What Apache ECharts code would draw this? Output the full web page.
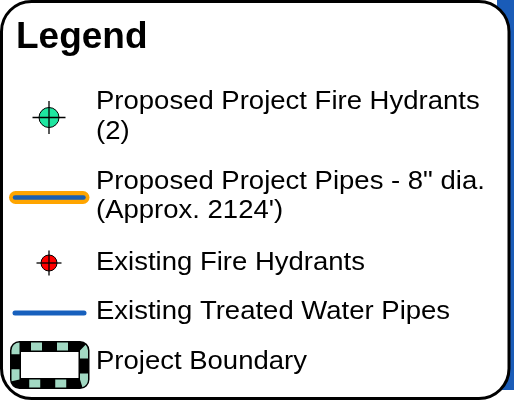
<!DOCTYPE html>
<html>
<head>
<meta charset="utf-8">
<script src="https://cdn.jsdelivr.net/npm/echarts@6/dist/echarts.min.js"></script>
<style>
html,body{margin:0;padding:0;background:#fff;}
#c{width:514px;height:402px;}
</style>
</head>
<body>
<div id="c"></div>
<script>
// Legend content
var title = 'Legend';
var itemLabels = [
  ['Proposed Project Fire Hydrants', '(2)'],
  ['Proposed Project Pipes - 8" dia.', "(Approx. 2124')"],
  ['Existing Fire Hydrants'],
  ['Existing Treated Water Pipes'],
  ['Project Boundary']
];
var itemSymbols = ['hydrantProposed', 'pipeProposed', 'hydrantExisting', 'pipeExisting', 'boundary'];

var FONT = '"Liberation Sans", Arial, sans-serif';
var layoutY = [117.5, 197.5, 263, 313, 365];   // icon centre rows
var textY = [[102.5, 132.5], [182, 211.5], [263], [312], [362]];
var iconX = 49;
var textX = 96;

function hydrant(cx, cy, r, arm, fill) {
  return [
    {type: 'circle', shape: {cx: cx, cy: cy, r: r}, style: {fill: fill, stroke: '#000', lineWidth: 1}},
    {type: 'line', shape: {x1: cx - arm, y1: cy, x2: cx + arm, y2: cy}, style: {stroke: '#000', lineWidth: 1.3}},
    {type: 'line', shape: {x1: cx, y1: cy - arm, x2: cx, y2: cy + arm}, style: {stroke: '#000', lineWidth: 1.3}}
  ];
}

function symbolElements(kind, cy) {
  switch (kind) {
    case 'hydrantProposed':
      return hydrant(iconX, cy, 10, 16.5, '#1ee6a0');
    case 'hydrantExisting':
      return hydrant(iconX, cy, 8, 12.5, '#ff0000');
    case 'pipeProposed':
      return [
        {type: 'line', shape: {x1: 15.5, y1: cy, x2: 83, y2: cy}, style: {stroke: '#ffa500', lineWidth: 13, lineCap: 'round'}},
        {type: 'line', shape: {x1: 15, y1: cy, x2: 83.5, y2: cy}, style: {stroke: '#1b5fb0', lineWidth: 4.5, lineCap: 'round'}}
      ];
    case 'pipeExisting':
      return [
        {type: 'line', shape: {x1: 15, y1: cy, x2: 84, y2: cy}, style: {stroke: '#1760bd', lineWidth: 5, lineCap: 'round'}}
      ];
    case 'boundary':
      return [
        {type: 'rect', shape: {x: 15.5, y: cy - 18.5, width: 68.5, height: 37, r: 4}, style: {fill: '#fff', stroke: '#000', lineWidth: 11}},
        {type: 'rect', shape: {x: 15.5, y: cy - 18.5, width: 68.5, height: 37, r: 4}, style: {fill: 'none', stroke: '#a2d9c3', lineWidth: 8, lineDash: [11, 15], lineDashOffset: 14.5}}
      ];
  }
  return [];
}

var elements = [];
// map backdrop peeking through on the right
elements.push({type: 'rect', shape: {x: 497, y: 0, width: 17, height: 390}, style: {fill: '#1a5cb8'}});
// legend frame
elements.push({type: 'rect', shape: {x: 1.5, y: 1.5, width: 507.5, height: 397, r: 30}, style: {fill: '#fff', stroke: '#000', lineWidth: 3}});
elements.push({type: 'text', x: 16, y: 38, style: {text: title, font: 'bold 37px ' + FONT, fill: '#000', verticalAlign: 'middle', align: 'left'}});

itemLabels.forEach(function (lines, i) {
  symbolElements(itemSymbols[i], layoutY[i]).forEach(function (e) { elements.push(e); });
  lines.forEach(function (t, j) {
    elements.push({type: 'text', x: textX, y: textY[i][j], scaleX: 1.1,
      style: {text: t, font: '25px ' + FONT, fill: '#000', verticalAlign: 'middle', align: 'left'}});
  });
});

var chart = echarts.init(document.getElementById('c'), null, {renderer: 'canvas'});
chart.setOption({
  animation: false,
  backgroundColor: '#fff',
  graphic: {elements: elements}
});
</script>
</body>
</html>
